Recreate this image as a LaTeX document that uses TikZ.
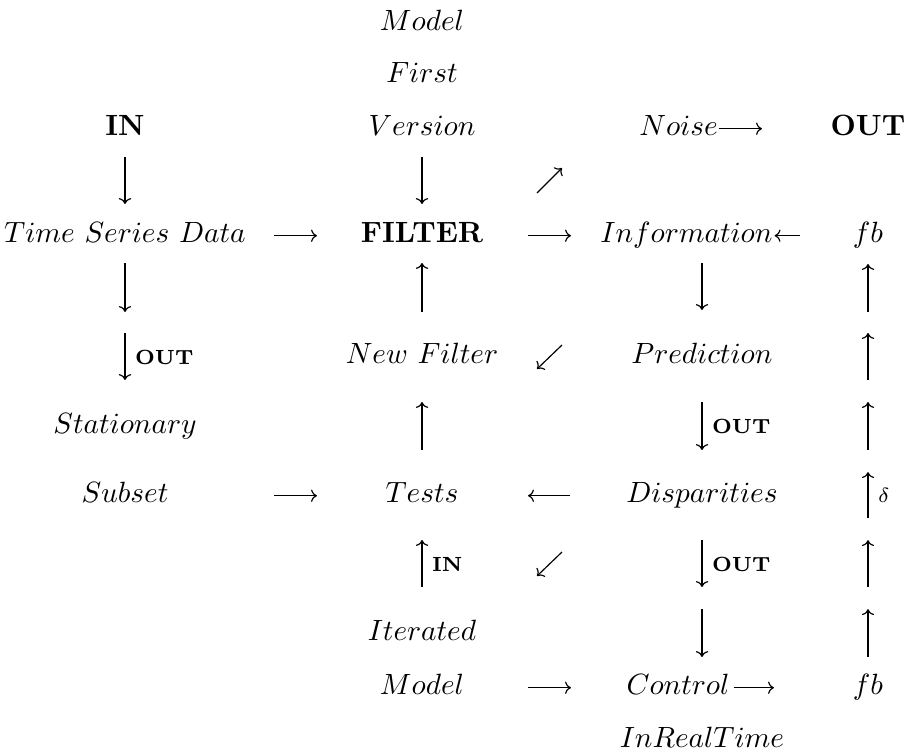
\documentclass[tikz,border=0pt]{standalone}
\usepackage{amsmath,amssymb}
\usepackage{tikz}
\usetikzlibrary{arrows.meta}

\begin{document}
\begin{tikzpicture}[x=0.012cm,y=-0.012cm,
        obj/.style={anchor=base,inner sep=0pt,outer sep=0pt},
        lbl/.style={anchor=west,inner sep=0pt,outer sep=0pt,font=\scriptsize\bfseries},
        arr/.style={-{Computer Modern Rightarrow[width=4.2pt,length=2pt]}},
        trim/.style 2 args={shorten <=#1*0.3414pt,shorten >=#2*0.3414pt}]
            \useasboundingbox (0,0) rectangle (910,754);
            \node[obj] (model1) at (422,30) {$Model$};
            \node[obj] (first) at (422,82) {$First$};
            \node[obj] (version) at (422,135) {$Version$};
            \node[obj] (in0) at (125,135) {\textbf{IN}};
            \node[obj] (noise) at (678.5,135) {$Noise$};
            \node[obj] (out0) at (868,135) {\textbf{OUT}};
            \node[obj] (tsd) at (125,242) {$Time\ Series\ Data$};
            \node[obj] (filter) at (422,242) {\textbf{FILTER}};
            \node[obj] (info) at (686.5,242) {$Information$};
            \node[obj] (fbtop) at (868,242) {$fb$};
            \node[obj] (newf) at (422,363) {$New\ Filter$};
            \node[obj] (pred) at (702,363) {$Prediction$};
            \node[obj] (stat) at (125,433) {$Stationary$};
            \node[obj] (subset) at (125,502) {$Subset$};
            \node[obj] (tests) at (422,502) {$Tests$};
            \node[obj] (disp) at (702,502) {$Disparities$};
            \node[obj] (iter) at (422,640) {$Iterated$};
            \node[obj] (model2) at (422,694) {$Model$};
            \node[obj] (control) at (678,694) {$Control$};
            \node[obj] (fbbot) at (868,694) {$fb$};
            \node[obj] (rt) at (702,747) {$InRealTime$};
            \node[lbl] (out1) at (135,357) {OUT};
            \node[lbl] (out2) at (712,426) {OUT};
            \node[lbl] (out3) at (712,564) {OUT};
            \node[lbl] (in1) at (432,564) {IN};
            \node[lbl] (delta) at (878,495) {$\delta$};
            \coordinate (ne) at (549.5,180.5);
            \coordinate (sw1) at (549.5,357);
            \coordinate (sw2) at (549.5,564);
            \draw[arr,trim={22}{38}] (in0.base) -- (tsd.base);
            \draw[arr,trim={22}{38}] (version.base) -- (filter.base);
            \draw[arr,trim={21}{121}] (tsd.base) -- (stat.base);
            \draw[arr,trim={91}{53}] (tsd.base) -- (stat.base);
            \draw[arr,trim={51}{21}] (newf.base) -- (filter.base);
            \draw[arr,trim={52}{39}] (tests.base) -- (newf.base);
            \draw[arr,trim={53}{38}] (iter.base) -- (tests.base);
            \draw[arr,trim={21}{53}] (pred.base |- info.base) -- (pred.base);
            \draw[arr,trim={39}{52}] (pred.base) -- (disp.base);
            \draw[arr,trim={38}{107}] (disp.base) -- (disp.base |- control.base);
            \draw[arr,trim={107}{37}] (disp.base) -- (disp.base |- control.base);
            \draw[arr,trim={382}{22}] (fbbot.base) -- (fbtop.base);
            \draw[arr,trim={314}{91}] (fbbot.base) -- (fbtop.base);
            \draw[arr,trim={244}{160}] (fbbot.base) -- (fbtop.base);
            \draw[arr,trim={176}{230}] (fbbot.base) -- (fbtop.base);
            \draw[arr,trim={107}{298}] (fbbot.base) -- (fbtop.base);
            \draw[arr,trim={37}{367}] (fbbot.base) -- (fbtop.base);
            \draw[arr,trim={149}{105}] (tsd.mid) -- (filter.mid);
            \draw[arr,trim={106}{115.5}] (filter.mid) -- (info.mid);
            \draw[arr,trim={149}{105}] (subset.mid) -- (tests.mid);
            \draw[arr,trim={132}{106}] (disp.mid) -- (tests.mid);
            \draw[arr,trim={106}{107}] (model2.mid) -- (control.mid);
            \draw[arr,trim={1}{106}] (noise.mid east) -- (out0.mid);
            \draw[arr,trim={68}{2}] (fbtop.mid) -- (info.mid east);
            \draw[arr,trim={4}{94}] (control.mid east) -- (fbbot.mid);
            \draw[arr] ([shift={(-12.5,12.5)}]ne) -- ([shift={(12.5,-12.5)}]ne);
            \draw[arr] ([shift={(12.5,-12)}]sw1) -- ([shift={(-12.5,12)}]sw1);
            \draw[arr] ([shift={(12.5,-12)}]sw2) -- ([shift={(-12.5,12)}]sw2);
        \end{tikzpicture}
\end{document}
